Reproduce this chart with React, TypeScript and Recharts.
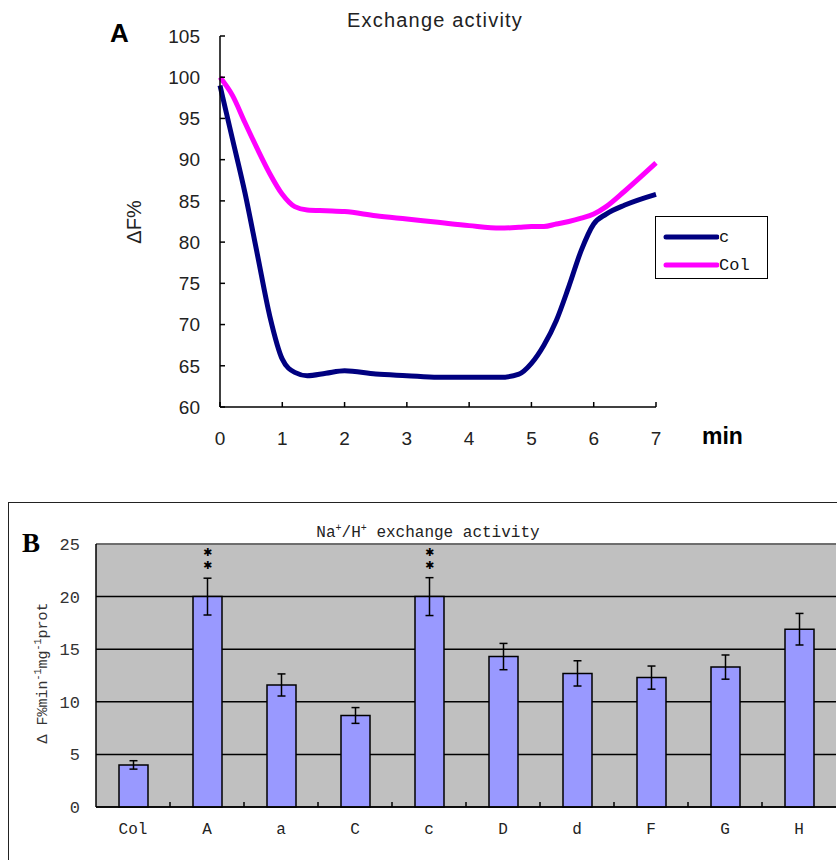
import React from 'react';
import {
  LineChart,
  Line,
  XAxis,
  YAxis,
  Legend,
  BarChart,
  Bar,
  CartesianGrid,
  ErrorBar,
  LabelList,
  ReferenceLine,
} from 'recharts';

// Panel A: fluorescence trace over time
const minutes = [0, 0.2, 0.4, 0.6, 0.8, 1, 1.2, 1.4, 1.7, 2, 2.5, 3, 3.5, 4, 4.5, 4.8, 5, 5.2, 5.4, 5.6, 5.8, 6, 6.2, 6.5, 7];
const traceC = [99, 92.5, 86, 78.5, 71, 65.8, 64.2, 63.8, 64.1, 64.4, 64, 63.8, 63.6, 63.6, 63.6, 64, 65.3, 67.5, 70.5, 74.6, 79, 82.2, 83.4, 84.5, 85.8];
const traceCol = [100, 97.8, 94.5, 91.3, 88.3, 85.8, 84.3, 83.9, 83.8, 83.7, 83.2, 82.8, 82.4, 82, 81.7, 81.8, 81.9, 81.9, 82.2, 82.5, 82.9, 83.4, 84.3, 86.2, 89.6];
const seriesNames = ['c', 'Col'];
const minuteTicks = [0, 1, 2, 3, 4, 5, 6, 7];
const percentTicks = [60, 65, 70, 75, 80, 85, 90, 95, 100, 105];

// Panel B: exchange activity per line
const groups = ['Col', 'A', 'a', 'C', 'c', 'D', 'd', 'F', 'G', 'H'];
const activity = [4.0, 20.0, 11.6, 8.7, 20.0, 14.3, 12.7, 12.3, 13.3, 16.9];
const activityErr = [0.4, 1.75, 1.05, 0.75, 1.8, 1.25, 1.2, 1.1, 1.15, 1.5];
const significance = ['', '**', '', '', '**', '', '', '', '', ''];
const activityTicks = [0, 5, 10, 15, 20, 25];

const traceData = minutes.map((t, i) => ({ t, c: traceC[i], col: traceCol[i] }));
const barData = groups.map((g, i) => ({ g, v: activity[i], err: activityErr[i], sig: significance[i] }));

const sans = 'Liberation Sans, Arial, sans-serif';
const mono = 'Liberation Mono, monospace';

const LegendBox = ({ payload }: any) => {
  // keep the series order (recharts sorts legend items by name)
  const items = [...(payload || [])].sort(
    (a: any, b: any) => seriesNames.indexOf(a.value) - seriesNames.indexOf(b.value)
  );
  return (
    <div
      style={{
        width: 113,
        height: 63,
        border: '1.5px solid #000',
        boxSizing: 'border-box',
        background: '#fff',
        paddingTop: 6,
        paddingLeft: 7,
      }}
    >
      {items.map((e: any) => (
        <div key={e.value} style={{ display: 'flex', alignItems: 'center', height: 28 }}>
          <svg width={56} height={8}>
            <line x1={3} x2={54} y1={4} y2={4} stroke={e.color} strokeWidth={5} strokeLinecap="round" />
          </svg>
          <span style={{ fontFamily: mono, fontSize: 17, color: '#111' }}>{e.value}</span>
        </div>
      ))}
    </div>
  );
};

const GroupTick = (props: any) => {
  const { x, y, payload, index } = props;
  const half = payload && payload.offset ? payload.offset : 37;
  return (
    <g>
      {index > 0 && <line x1={x - half} x2={x - half} y1={y} y2={y - 5} stroke="#000" strokeWidth={1.5} />}
      <text x={x} y={y + 27} textAnchor="middle" fontFamily={mono} fontSize={16} fill="#222">
        {payload.value}
      </text>
    </g>
  );
};

// one small heavy star per asterisk, stacked above the bar
const SigLabel = (props: any) => {
  const { x, y, width, value } = props;
  if (!value) return null;
  const cx = x + width / 2;
  return (
    <g>
      {String(value).split('').map((s, i) => (
        <text
          key={i}
          x={cx}
          y={y - 41 + i * 13}
          textAnchor="middle"
          fontFamily="DejaVu Sans, sans-serif"
          fontWeight="bold"
          fontSize={11}
          fill="#000"
        >
          ✱
        </text>
      ))}
    </g>
  );
};

export default function App() {
  return (
    <div style={{ position: 'absolute', left: 0, top: 0, width: 837, height: 860, background: '#fff', overflow: 'hidden' }}>
      <div style={{ position: 'absolute', left: 0, top: 0 }}>
        <LineChart width={837} height={480} data={traceData} margin={{ top: 36, right: 181, bottom: 43, left: 160 }}>
          <XAxis
            dataKey="t"
            type="number"
            domain={[0, 7]}
            ticks={minuteTicks}
            height={30}
            stroke="#000"
            strokeWidth={1.5}
            tickSize={-5}
            tickMargin={30}
            tick={{ fontFamily: sans, fontSize: 19, fill: '#222' }}
          />
          <YAxis
            type="number"
            domain={[60, 105]}
            ticks={percentTicks}
            width={60}
            stroke="#000"
            strokeWidth={1.5}
            tickSize={-5}
            tickMargin={25}
            tick={{ fontFamily: sans, fontSize: 19, fill: '#222' }}
          />
          <Legend
            layout="horizontal"
            verticalAlign="middle"
            align="center"
            wrapperStyle={{ left: 655, top: 216, width: 113, height: 63 }}
            content={<LegendBox />}
          />
          <Line type="monotone" dataKey="c" name={seriesNames[0]} stroke="#000080" strokeWidth={5} dot={false} isAnimationActive={false} />
          <Line type="monotone" dataKey="col" name={seriesNames[1]} stroke="#FF00FF" strokeWidth={5} dot={false} isAnimationActive={false} />
        </LineChart>
      </div>

      <div style={{ position: 'absolute', left: 8, top: 502, width: 900, height: 400, border: '1.5px solid #222' }} />

      <div style={{ position: 'absolute', left: 0, top: 490 }}>
        <BarChart width={837} height={370} data={barData} margin={{ top: 54, right: 1, bottom: 23, left: 36 }} barSize={29}>
          <CartesianGrid vertical={false} fill="#C0C0C0" fillOpacity={1} stroke="#000" strokeWidth={1.5} />
          <ReferenceLine y={25} stroke="#808080" strokeWidth={1.5} />
          <XAxis
            dataKey="g"
            height={30}
            stroke="#000"
            strokeWidth={1.5}
            tickLine={false}
            tickSize={0}
            tickMargin={0}
            interval={0}
            tick={<GroupTick />}
          />
          <YAxis
            domain={[0, 25]}
            ticks={activityTicks}
            width={60}
            stroke="#000"
            strokeWidth={1.5}
            tickLine={false}
            tickSize={0}
            tickMargin={16}
            tick={{ fontFamily: mono, fontSize: 17, fill: '#333' }}
          />
          <Bar dataKey="v" fill="#9999FF" stroke="#000" strokeWidth={1.5} isAnimationActive={false}>
            <ErrorBar dataKey="err" width={4} stroke="#000" strokeWidth={1.5} />
            <LabelList dataKey="sig" content={<SigLabel />} />
          </Bar>
        </BarChart>
      </div>

      <svg width={837} height={860} style={{ position: 'absolute', left: 0, top: 0, pointerEvents: 'none' }}>
        <text x={110} y={42} fontFamily={sans} fontWeight={900} fontSize={26} fill="#000">A</text>
        <text x={435} y={27} textAnchor="middle" fontFamily={sans} fontSize={20} letterSpacing={1.2} fill="#222">
          Exchange activity
        </text>
        <text
          x={141}
          y={222}
          textAnchor="middle"
          transform="rotate(-90 141 222)"
          fontFamily={sans}
          fontSize={20}
          fill="#222"
        >
          ΔF%
        </text>
        <text x={702} y={444} fontFamily={sans} fontWeight="bold" fontSize={23} fill="#000">min</text>

        <text x={22} y={552} fontFamily="Liberation Serif, serif" fontWeight="bold" fontSize={27} fill="#000">B</text>
        <text x={428} y={537} textAnchor="middle" fontFamily={mono} fontSize={16} fill="#222">
          Na<tspan dy={-6} fontSize={10}>+</tspan><tspan dy={6}>/H</tspan><tspan dy={-6} fontSize={10}>+</tspan>
          <tspan dy={6}> exchange activity</tspan>
        </text>
        <text
          x={47}
          y={673}
          textAnchor="middle"
          transform="rotate(-90 47 673)"
          fontFamily={mono}
          fontSize={15}
          fill="#333"
        >
          Δ F%min<tspan dy={-6} fontSize={10}>-1</tspan><tspan dy={6}>mg</tspan><tspan dy={-6} fontSize={10}>-1</tspan>
          <tspan dy={6}>prot</tspan>
        </text>
      </svg>
    </div>
  );
}
